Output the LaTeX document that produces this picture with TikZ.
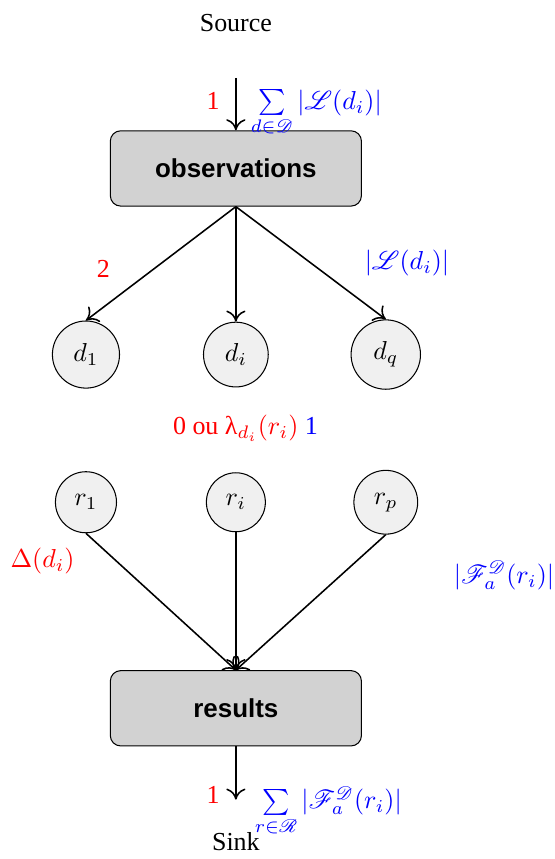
\documentclass[tikz,border=0pt]{standalone}
\usepackage[no-math]{fontspec}
\setmainfont{Liberation Serif}
\newfontfamily\boxfont{Liberation Sans}
\IfFileExists{mathrsfs.sty}{\usepackage{mathrsfs}}{\let\mathscr\mathcal}
\usetikzlibrary{positioning,arrows.meta}

\begin{document}
\begin{tikzpicture}[
  on grid,
  procbox/.style = {
    rectangle, rounded corners=4pt,
    draw=black, fill=gray!35,
    minimum width=3.4cm, minimum height=1.02cm,
    font=\boxfont\bfseries
  },
  vertex/.style = {
    circle, draw=black, fill=gray!12,
    inner sep=4.6pt
  },
  flow/.style = {-{To[length=1.5mm,width=2.6mm]}, semithick},
  cost/.style = {inner sep=0pt, text=red},
  capa/.style = {inner sep=0pt, text=blue}
]

%% ---------- source side ----------
\node[procbox] (obs) {observations};
\node[above=1.97cm of obs] (src) {Source};
\coordinate[above=0.71cm of obs.north] (in);

%% ---------- documents ----------
\node[vertex, below=2.52cm of obs] (di) {$d_i$};
\node[vertex, left=2.03cm of di]   (d1) {$d_1$};
\node[vertex, right=2.03cm of di]  (dq) {$d_q$};

\node[cost, below=1cm of di, xshift=0.13cm] (lam)
    {0 ou λ$_{d_i}(r_i)$\ \textcolor{blue}{1}};

%% ---------- results ----------
\node[vertex, below=2cm of di]    (ri) {$r_i$};
\node[vertex, left=2.03cm of ri]  (r1) {$r_1$};
\node[vertex, right=2.03cm of ri] (rp) {$r_p$};

\node[procbox, below=2.79cm of ri] (res) {results};
\coordinate[below=0.72cm of res.south] (out);
\node[below=1.8cm of res] (snk) {Sink};

%% ---------- arrows ----------
\draw[flow] (in) --
    node[cost, pos=0.6, anchor=base east, xshift=-6pt] {1}
    node[capa, pos=0.6, anchor=base west, xshift=5.5pt]
        {$\sum\limits_{d\in\mathscr{D}} |\mathscr{L}(d_i)|$} (obs);

% obs -> documents (fan out)
\draw[flow] (obs.south) -- node[cost, pos=0.55, anchor=east, xshift=-0.58cm] {2} (d1.north);
\draw[flow] (obs.south) -- (di.north);
\draw[flow] (obs.south) -- node[capa, anchor=west, xshift=0.72cm] {$|\mathscr{L}(d_i)|$} (dq.north);

% results -> res (merge)
\draw[flow] (r1.south) -- node[cost, pos=0.2, anchor=east, xshift=-0.55cm] {$\Delta(d_i)$} (res.north);
\draw[flow] (ri.south) -- (res.north);
\draw[flow] (rp.south) -- node[capa, pos=0.3, anchor=west, xshift=1.52cm]
    {$|\mathscr{F}_a^{\mathscr{D}}(r_i)|$} (res.north);

\draw[flow] (res) --
    node[cost, pos=1, anchor=base east, xshift=-6pt, yshift=-1.5pt] {1}
    node[capa, pos=1, anchor=base west, xshift=7pt, yshift=-3.4pt]
        {$\sum\limits_{r\in\mathscr{R}} |\mathscr{F}_a^{\mathscr{D}}(r_i)|$} (out);

\useasboundingbox (-3.194,2.281) rectangle (4.187,-9.247);
\end{tikzpicture}
\end{document}
